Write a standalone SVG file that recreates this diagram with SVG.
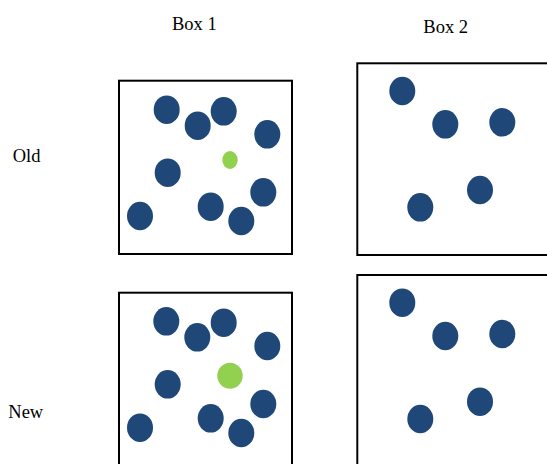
<svg xmlns="http://www.w3.org/2000/svg" width="547" height="464" viewBox="0 0 547 464">
<style>
.lbl{font-family:"Liberation Serif","Times New Roman",serif;font-size:18.5px;fill:#000}
.box{fill:#fff;stroke:#000;stroke-width:2}
.b{fill:#1f4878}
.g{fill:#92d050}
</style>
<rect width="547" height="464" fill="#fff"/>
<text class="lbl" x="172" y="29.5">Box 1</text>
<text class="lbl" x="423.3" y="33.3">Box 2</text>
<text class="lbl" x="12.7" y="161.7">Old</text>
<text class="lbl" x="8.3" y="418.3">New</text>
<g id="box1-old">
<rect class="box" x="119" y="80.7" width="173" height="173.3"/>
<ellipse class="b" cx="166.7" cy="109.7" rx="13" ry="14.3"/>
<ellipse class="b" cx="197.7" cy="125.7" rx="13" ry="14.3"/>
<ellipse class="b" cx="223.7" cy="111.3" rx="13" ry="14.3"/>
<ellipse class="b" cx="267.3" cy="134.3" rx="13" ry="14.3"/>
<ellipse class="g" cx="230" cy="160" rx="7.7" ry="9"/>
<ellipse class="b" cx="167.7" cy="172.7" rx="13" ry="14.3"/>
<ellipse class="b" cx="263.3" cy="192.3" rx="13" ry="14.3"/>
<ellipse class="b" cx="140" cy="216" rx="13" ry="14.3"/>
<ellipse class="b" cx="210.7" cy="206.7" rx="13" ry="14.3"/>
<ellipse class="b" cx="241.3" cy="221" rx="13" ry="14.3"/>
</g>
<g id="box2-old">
<rect class="box" x="357.3" y="63.3" width="200" height="191.7"/>
<ellipse class="b" cx="402.3" cy="91" rx="13" ry="14.3"/>
<ellipse class="b" cx="445.3" cy="124.3" rx="13" ry="14.3"/>
<ellipse class="b" cx="502.3" cy="122.3" rx="13" ry="14.3"/>
<ellipse class="b" cx="480" cy="190" rx="13" ry="14.3"/>
<ellipse class="b" cx="420.3" cy="207.3" rx="13" ry="14.3"/>
</g>
<g id="box1-new">
<rect class="box" x="119" y="292.7" width="173" height="200"/>
<ellipse class="b" cx="166.3" cy="321.3" rx="13" ry="14.3"/>
<ellipse class="b" cx="197.3" cy="337.3" rx="13" ry="14.3"/>
<ellipse class="b" cx="223.7" cy="322.7" rx="13" ry="14.3"/>
<ellipse class="b" cx="267.3" cy="346" rx="13" ry="14.3"/>
<ellipse class="g" cx="230" cy="375.7" rx="12.7" ry="13"/>
<ellipse class="b" cx="167.7" cy="384.3" rx="13" ry="14.3"/>
<ellipse class="b" cx="263.3" cy="404" rx="13" ry="14.3"/>
<ellipse class="b" cx="140" cy="427.7" rx="13" ry="14.3"/>
<ellipse class="b" cx="210.7" cy="418.3" rx="13" ry="14.3"/>
<ellipse class="b" cx="241.3" cy="433" rx="13" ry="14.3"/>
</g>
<g id="box2-new">
<rect class="box" x="357.3" y="275" width="200" height="200"/>
<ellipse class="b" cx="402.3" cy="302.7" rx="13" ry="14.3"/>
<ellipse class="b" cx="445.3" cy="336" rx="13" ry="14.3"/>
<ellipse class="b" cx="502.3" cy="334" rx="13" ry="14.3"/>
<ellipse class="b" cx="480" cy="401.7" rx="13" ry="14.3"/>
<ellipse class="b" cx="420.3" cy="419" rx="13" ry="14.3"/>
</g>
<g id="connectors"/>
</svg>
